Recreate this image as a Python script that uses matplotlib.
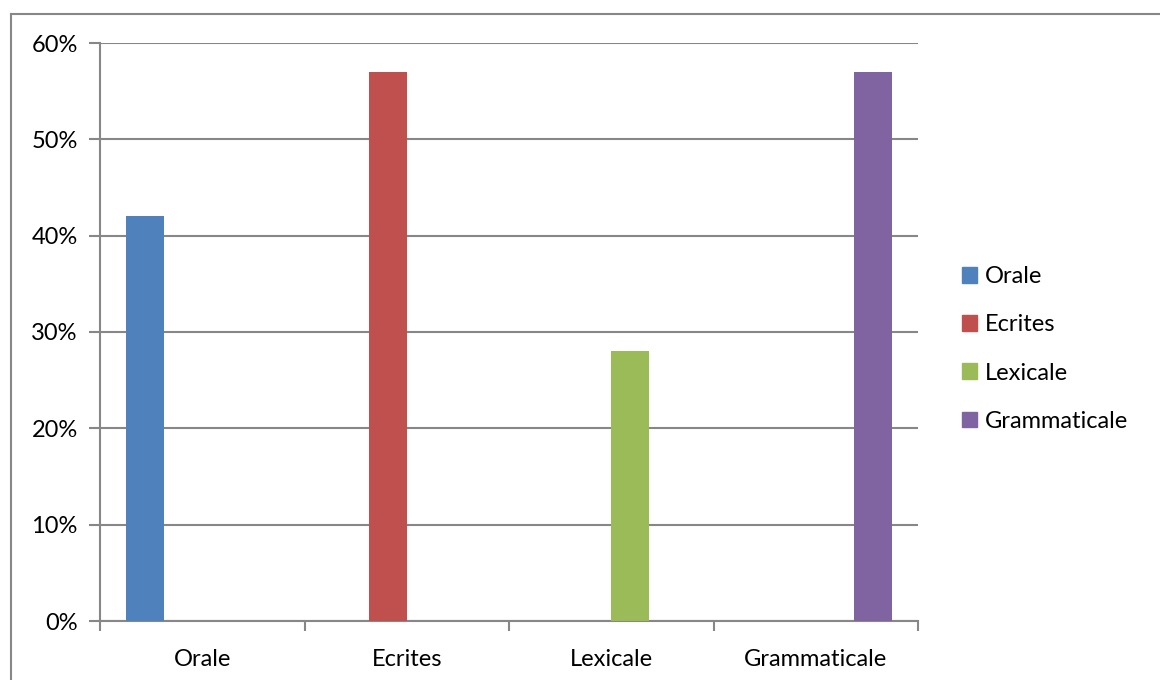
import matplotlib
matplotlib.use("Agg")
import matplotlib.pyplot as plt
import matplotlib.patches as mpatches
import matplotlib.lines as mlines
import numpy as np

plt.rcParams['font.family'] = ['Lato', 'DejaVu Sans']

# Data
categories = ["Orale", "Ecrites", "Lexicale", "Grammaticale"]
series = ["Orale", "Ecrites", "Lexicale", "Grammaticale"]
values = {
    "Orale":        [0.42, 0, 0, 0],
    "Ecrites":      [0, 0.57, 0, 0],
    "Lexicale":     [0, 0, 0.28, 0],
    "Grammaticale": [0, 0, 0, 0.57],
}
colors = ["#4F81BD", "#C0504D", "#9BBB59", "#8064A2"]
yticks = [0, 0.1, 0.2, 0.3, 0.4, 0.5, 0.6]

grey = "#878787"
fs = 17

fig = plt.figure(figsize=(11.6, 6.8), dpi=100)
ax = fig.add_axes([100 / 1160, 1 - 621 / 680, 818 / 1160, 578 / 680])

x = np.arange(len(categories))
nser = len(series)
w = 0.186
for i, s in enumerate(series):
    offs = (i - (nser - 1) / 2) * w
    ax.bar(x + offs, values[s], width=w, color=colors[i], label=s, zorder=3)

ax.set_xlim(-0.5, len(categories) - 0.5)
ax.set_ylim(0, 0.6)
ax.set_yticks(yticks)
ax.set_yticklabels(["{:.0f}%".format(v * 100) for v in yticks], fontsize=fs)
ax.set_xticks(x)
ax.set_xticklabels(categories, fontsize=fs)
ax.set_xticks(np.arange(-0.5, len(categories)), minor=True)
ax.tick_params(axis="x", which="major", length=0, pad=20)
ax.tick_params(axis="x", which="minor", length=7, width=1.5, color=grey)
ax.tick_params(axis="y", length=8, width=1.5, color=grey, pad=8)

ax.grid(axis="y", color=grey, linewidth=1.5, zorder=0)
for side in ["top", "right"]:
    ax.spines[side].set_visible(False)
for side in ["left", "bottom"]:
    ax.spines[side].set_color(grey)
    ax.spines[side].set_linewidth(1.5)

handles = [mpatches.Patch(color=colors[i], label=s) for i, s in enumerate(series)]
fig.legend(handles=handles, loc="center left", bbox_to_anchor=(962 / 1160, 1 - 349 / 680),
           frameon=False, fontsize=fs, handlelength=0.65, handleheight=0.65,
           handletextpad=0.3, labelspacing=1.15, borderpad=0, borderaxespad=0)

# outer chart border (only top and left edges fall inside the image)
fig.lines.append(mlines.Line2D([11 / 1160, 1.0], [1 - 14 / 680, 1 - 14 / 680],
                               transform=fig.transFigure, color=grey, linewidth=1.5))
fig.lines.append(mlines.Line2D([11 / 1160, 11 / 1160], [0.0, 1 - 14 / 680],
                               transform=fig.transFigure, color=grey, linewidth=1.5))

fig.savefig("out.png", dpi=100)
